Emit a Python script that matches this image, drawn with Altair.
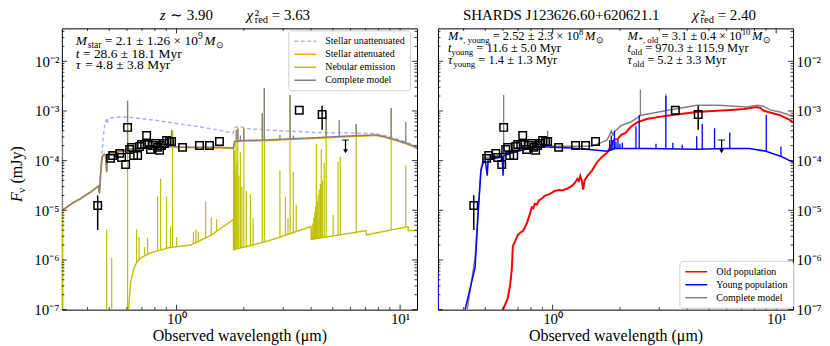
import altair as alt
import pandas as pd

# ---------------- data ----------------
# photometry (same galaxy in both panels)
phot_wl = [0.444, 0.507, 0.518, 0.557, 0.568, 0.592, 0.604, 0.617, 0.630, 0.643, 0.670, 0.684, 0.698,
           0.720, 0.735, 0.742, 0.765, 0.781, 0.806, 0.823, 0.840, 0.857, 0.884, 0.903, 0.930, 0.950,
           1.064, 1.267, 1.404, 1.556, 3.54, 4.48]
phot_f = [1.25e-5, 1.11e-4, 1.27e-4, 1.40e-4, 1.16e-4, 8.4e-5, 4.67e-4, 1.68e-4, 1.85e-4, 1.27e-4, 1.27e-4,
          1.93e-4, 2.12e-4, 2.12e-4, 3.22e-4, 2.12e-4, 1.68e-4, 2.02e-4, 2.22e-4, 1.85e-4, 1.61e-4, 2.02e-4,
          2.22e-4, 2.55e-4, 2.44e-4, 2.44e-4, 1.85e-4, 2.02e-4, 2.02e-4, 2.44e-4, 1.03e-3, 8.5e-4]
err_wl = [0.444, 4.48]
err_lo = [4.0e-6, 4.2e-4]
err_hi = [2.0e-5, 1.28e-3]
ul_wl = [5.7]
ul_top = [2.6e-4]
ul_tip = [1.55e-4]

# left panel: single population
unatt_wl = [0.455, 0.46, 0.47, 0.478, 0.485, 0.49, 0.495, 0.52, 0.56, 0.62, 0.70, 0.82, 1.0, 1.3, 1.6, 1.795,
            1.82, 1.9, 2.1, 2.6, 4.2, 6.0, 7.8, 8.5, 9.5, 10.5, 11.4, 11.9]
unatt_f = [3e-5, 8e-5, 3e-4, 5.5e-4, 6.5e-4, 5.5e-4, 7.0e-4, 7.4e-4, 7.6e-4, 7.4e-4, 7.0e-4, 6.4e-4, 5.6e-4,
           4.7e-4, 4.0e-4, 3.6e-4, 4.6e-4, 4.9e-4, 4.4e-4, 4.1e-4, 3.7e-4, 3.6e-4, 3.5e-4, 3.2e-4, 2.8e-4,
           2.4e-4, 2.1e-4, 1.9e-4]
tot1_wl = [0.307, 0.33, 0.35, 0.37, 0.39, 0.41, 0.43, 0.448, 0.452, 0.458, 0.465, 0.475, 0.482, 0.487, 0.49,
           0.51, 0.53, 0.56, 0.59, 0.604, 0.65, 0.75, 0.875, 1.0, 1.3, 1.6, 1.795, 1.82, 2.0, 2.52, 3.2, 4.22,
           5.57, 7.8, 8.5, 9.5, 10.5, 11.4, 11.9]
tot1_f = [1.0e-5, 1.25e-5, 1.5e-5, 1.7e-5, 2.0e-5, 2.3e-5, 2.7e-5, 3.1e-5, 2.2e-5, 6e-5, 1.2e-4, 1.35e-4,
          1.3e-4, 6e-5, 1.35e-4, 1.45e-4, 1.45e-4, 1.55e-4, 1.6e-4, 1.7e-4, 1.75e-4, 1.9e-4, 2.0e-4, 1.9e-4,
          1.85e-4, 1.85e-4, 1.8e-4, 2.45e-4, 2.55e-4, 2.6e-4, 2.75e-4, 2.9e-4, 3.1e-4, 3.3e-4, 3.05e-4,
          2.65e-4, 2.3e-4, 2.0e-4, 1.8e-4]
att_wl = tot1_wl
att_f = [0.98e-5, 1.22e-5, 1.47e-5, 1.66e-5, 1.95e-5, 2.25e-5, 2.65e-5, 3.05e-5, 2.15e-5, 5.8e-5, 1.17e-4,
         1.31e-4, 1.26e-4, 5.8e-5, 1.31e-4, 1.41e-4, 1.41e-4, 1.5e-4, 1.55e-4, 1.65e-4, 1.7e-4, 1.84e-4,
         1.94e-4, 1.84e-4, 1.8e-4, 1.8e-4, 1.75e-4, 2.38e-4, 2.47e-4, 2.52e-4, 2.67e-4, 2.81e-4, 3.0e-4,
         3.2e-4, 2.96e-4, 2.57e-4, 2.23e-4, 1.94e-4, 1.75e-4]
neb_wl = [0.307, 0.3095, 0.310, 0.606, 0.610, 0.623, 0.643, 0.663, 0.691, 0.766, 0.94, 1.155, 1.418, 1.795,
          1.80, 2.63, 3.99, 4.01, 7.04, 7.06, 10.85, 10.88, 11.9]
neb_f = [1.0e-5, 1.0e-5, 1e-8, 1e-8, 1e-7, 3.5e-7, 6.5e-7, 8.9e-7, 1.1e-6, 1.4e-6, 1.8e-6, 2.0e-6, 3.1e-6,
         6.5e-6, 1.6e-6, 2.5e-6, 4.7e-6, 2.6e-6, 3.9e-6, 3.2e-6, 4.7e-6, 3.9e-6, 3.9e-6]
# nebular emission lines: wavelength, foot, peak
nebl_wl = [0.487, 0.513, 0.604, 0.663, 0.68, 0.72, 0.742, 0.823, 0.849, 0.902, 0.94, 0.96, 1.0, 1.19, 1.22,
           1.25, 1.35, 1.43, 1.51, 1.80, 1.81, 1.82, 1.83, 1.845, 1.86, 1.88, 1.90, 1.93, 1.96, 2.0, 2.05,
           2.14, 2.2, 2.42, 2.47, 2.9, 3.07, 3.15, 3.22, 3.33, 3.43, 4.03, 4.07, 4.11, 4.15, 4.19, 4.22,
           4.26, 4.3, 4.35, 4.4, 4.44, 4.5, 4.58, 4.67, 5.02, 5.28, 5.4, 6.36, 9.12, 10.6]
nebl_base = [1e-8, 1e-8, 1e-8, 8.9e-7, 1.0e-6, 1.2e-6, 1.3e-6, 1.5e-6, 1.6e-6, 1.7e-6, 1.8e-6, 1.8e-6,
             1.85e-6, 2.1e-6, 2.2e-6, 2.4e-6, 2.8e-6, 3.1e-6, 3.6e-6, 1.6e-6, 1.6e-6, 1.6e-6, 1.6e-6,
             1.65e-6, 1.65e-6, 1.7e-6, 1.7e-6, 1.7e-6, 1.75e-6, 1.8e-6, 1.8e-6, 1.9e-6, 1.9e-6, 2.2e-6,
             2.25e-6, 2.8e-6, 3.1e-6, 3.2e-6, 3.3e-6, 3.4e-6, 3.6e-6, 2.6e-6, 2.6e-6, 2.65e-6, 2.65e-6,
             2.7e-6, 2.7e-6, 2.7e-6, 2.75e-6, 2.75e-6, 2.8e-6, 2.8e-6, 2.8e-6, 2.85e-6, 2.9e-6, 3.0e-6,
             3.1e-6, 3.1e-6, 3.5e-6, 4.2e-6, 4.6e-6]
nebl_peak = [4.1e-6, 1.1e-6, 1.6e-3, 4.1e-6, 2.9e-6, 1.8e-6, 2.8e-6, 1.9e-5, 4.3e-5, 1.9e-5, 4.7e-6, 4.1e-4,
             2.9e-6, 3.7e-6, 4.1e-6, 3.7e-6, 1.5e-5, 7.2e-6, 6.6e-6, 2.0e-4, 1.2e-4, 1.6e-4, 6e-5, 2.4e-4,
             9e-5, 4.5e-4, 5e-5, 1.5e-4, 3e-5, 4.5e-4, 2.5e-5, 2.1e-5, 7e-6, 9e-4, 2.9e-3, 6.3e-5, 1.9e-5,
             7e-6, 2.1e-3, 6e-5, 1.3e-5, 4e-6, 5.5e-6, 7e-6, 9e-6, 1.2e-5, 2.2e-4, 1.5e-5, 2e-5, 2.6e-5,
             3.4e-5, 1.7e-4, 4e-5, 9e-5, 7.9e-4, 8e-6, 9.5e-5, 1.2e-4, 5.4e-4, 1.15e-3, 8e-5]
tot1l_wl = [0.309, 0.604, 0.95, 1.85, 1.88, 1.93, 2.0, 2.42, 2.47, 2.9, 3.22, 3.33, 4.67, 5.34, 6.36, 9.12, 10.6]
tot1l_base = [1.0e-5, 1.7e-4, 1.9e-4, 2.5e-4, 2.5e-4, 2.5e-4, 2.55e-4, 2.6e-4, 2.6e-4, 2.7e-4, 2.75e-4,
              2.75e-4, 2.95e-4, 3.1e-4, 3.2e-4, 2.8e-4, 2.3e-4]
tot1l_peak = [4.1e-4, 1.6e-3, 4.1e-4, 4.2e-4, 4.5e-4, 3.2e-4, 4.5e-4, 9e-4, 2.9e-3, 3.3e-4, 2.1e-3, 3.2e-4,
              7.9e-4, 6.6e-4, 5.4e-4, 1.15e-3, 6e-4]

# right panel: two populations
old_wl = [0.598, 0.60, 0.615, 0.63, 0.645, 0.657, 0.664, 0.68, 0.699, 0.72, 0.735, 0.751, 0.77, 0.79, 0.807,
          0.82, 0.832, 0.85, 0.87, 0.9, 0.921, 0.96, 1.0, 1.02, 1.07, 1.1, 1.166, 1.22, 1.26, 1.29, 1.31,
          1.33, 1.35, 1.37, 1.39, 1.43, 1.5, 1.585, 1.65, 1.755, 1.82, 1.89, 1.95, 2.03, 2.12, 2.24, 2.39,
          2.64, 3.0, 3.38, 4.41, 5.2, 6.25, 7.2, 8.15, 8.5, 8.75, 9.3, 10.4, 11.5, 11.9]
old_f = [1e-8, 1e-7, 1.3e-7, 1.7e-7, 3e-7, 6.5e-7, 1.9e-6, 2.4e-6, 3.2e-6, 3.6e-6, 3.8e-6, 4.5e-6, 5.8e-6,
         8.3e-6, 1.15e-5, 1.1e-5, 1.35e-5, 1.3e-5, 1.6e-5, 1.75e-5, 1.95e-5, 2.1e-5, 2.3e-5, 2.45e-5, 2.55e-5,
         2.5e-5, 2.75e-5, 3.1e-5, 3.6e-5, 4.3e-5, 3.9e-5, 4.9e-5, 4.0e-5, 2.6e-5, 4.0e-5, 4.9e-5, 6.3e-5,
         9.5e-5, 1.15e-4, 1.45e-4, 2.0e-4, 2.65e-4, 2.7e-4, 3.3e-4, 3.6e-4, 4.8e-4, 5.9e-4, 6.9e-4, 7.6e-4,
         8.2e-4, 9.5e-4, 1.0e-3, 1.05e-3, 1.1e-3, 1.2e-3, 1.15e-3, 1.02e-3, 9.4e-4, 8.2e-4, 6.6e-4, 5.9e-4]
young_wl = [0.307, 0.3085, 0.404, 0.406, 0.45, 0.464, 0.478, 0.489, 0.50, 0.51, 0.515, 0.55, 0.595, 0.60,
            0.605, 0.65, 0.72, 0.86, 1.0, 1.2, 1.5, 1.755, 1.80, 1.9, 2.64, 4.4, 6.0, 7.6, 9.0, 10.6, 11.5, 11.9]
young_f = [5.5e-7, 1e-8, 1e-8, 1e-7, 7e-7, 8.3e-6, 6.3e-5, 9e-5, 1.0e-4, 5e-5, 1.05e-4, 1.1e-4, 1.2e-4, 5e-5,
           1.25e-4, 1.4e-4, 1.6e-4, 1.95e-4, 1.85e-4, 1.8e-4, 1.65e-4, 1.55e-4, 1.6e-4, 1.75e-4, 1.75e-4,
           1.7e-4, 1.75e-4, 1.75e-4, 1.55e-4, 1.2e-4, 1.0e-4, 9.5e-5]
tot2_wl = [0.307, 0.3085, 0.41, 0.415, 0.45, 0.466, 0.478, 0.49, 0.50, 0.56, 0.60, 0.65, 0.72, 0.86, 1.0, 1.2,
           1.5, 1.65, 1.75, 1.8, 1.83, 1.86, 1.9, 2.03, 2.24, 2.49, 3.15, 4.41, 5.5, 7.37, 8.3, 8.75, 9.4,
           10.4, 11.5, 11.9]
tot2_f = [5.5e-7, 1e-8, 1e-8, 1e-7, 1.1e-6, 1.2e-5, 7e-5, 1.05e-4, 1.15e-4, 1.25e-4, 1.3e-4, 1.45e-4, 1.7e-4,
          2.05e-4, 1.95e-4, 1.95e-4, 1.95e-4, 2.3e-4, 2.6e-4, 3.3e-4, 4.0e-4, 3.3e-4, 3.9e-4, 5.1e-4, 6.0e-4,
          8.2e-4, 1.0e-3, 1.3e-3, 1.3e-3, 1.2e-3, 1.3e-3, 1.25e-3, 1.05e-3, 9.5e-4, 8.2e-4, 7.8e-4]
youngl_wl = [1.80, 1.83, 1.86, 1.89, 1.92, 1.96, 2.0, 2.05, 2.36, 2.44, 2.90, 3.21, 3.45, 3.80, 4.41, 4.67,
             5.30, 6.20, 9.03, 10.5]
youngl_base = [1.6e-4, 1.65e-4, 1.7e-4, 1.7e-4, 1.75e-4, 1.75e-4, 1.75e-4, 1.75e-4, 1.75e-4, 1.75e-4,
               1.75e-4, 1.75e-4, 1.75e-4, 1.75e-4, 1.7e-4, 1.7e-4, 1.7e-4, 1.7e-4, 1.55e-4, 1.2e-4]
youngl_peak = [2.6e-4, 3.2e-4, 2.6e-4, 4.0e-4, 2.4e-4, 2.6e-4, 2.2e-4, 2.3e-4, 4.9e-4, 8.3e-4, 2.2e-4, 2.0e-3,
               2.3e-4, 2.1e-4, 3.1e-4, 5.5e-4, 4.5e-4, 3.7e-4, 8.3e-4, 1.9e-4]
tot2l_wl = [0.604, 0.95, 2.47, 3.21]
tot2l_base = [1.3e-4, 2.0e-4, 8.0e-4, 1.0e-3]
tot2l_peak = [2.1e-3, 4.0e-4, 2.7e-3, 2.2e-3]

# axes ticks
y_major = [1e-7, 1e-6, 1e-5, 1e-4, 1e-3, 1e-2]
y_minor = [m * e for e in [1e-7, 1e-6, 1e-5, 1e-4, 1e-3, 1e-2] for m in range(2, 10) if m * e < 0.046]
x_major = [1, 10]
x_minor = [0.4, 0.5, 0.6, 0.7, 0.8, 0.9, 2, 3, 4, 5, 6, 7, 8, 9]

SER1 = ["Stellar unattenuated", "Stellar attenuated", "Nebular emission", "Complete model"]
COL1 = ["#aab2f4", "#ffa500", "#bfbf00", "#808080"]
DASH1 = [[4, 2.5], [1, 0], [1, 0], [1, 0]]
SER2 = ["Old population", "Young population", "Complete model"]
COL2 = ["#ff0000", "#0000ff", "#808080"]

# ---------------- styling / helpers ----------------
FONT = "Liberation Serif"
W, H = 356, 282
xsc = alt.Scale(type="log", domain=[0.307, 11.9], nice=False)
ysc = alt.Scale(type="log", domain=[1e-7, 0.046], nice=False)

xax = alt.Axis(values=x_major, labelExpr="datum.value < 3 ? '10⁰' : '10¹'", ticks=False, domain=False,
               grid=False, labelFont=FONT, labelFontSize=15, labelColor="black", labelPadding=2,
               title="Observed wavelength (μm)", titleFont=FONT, titleFontSize=16, titleFontWeight="normal",
               titleColor="black", titlePadding=1)
YEXPR = ("'10' + (datum.value < 3e-7 ? '⁻⁷' : datum.value < 3e-6 ? '⁻⁶' : datum.value < 3e-5 ? '⁻⁵' : "
         "datum.value < 3e-4 ? '⁻⁴' : datum.value < 3e-3 ? '⁻³' : '⁻²')")


def yaxis(orient):
    return alt.Axis(values=y_major, labelExpr=YEXPR, orient=orient, ticks=False, domain=False, grid=False,
                    labelFont=FONT, labelFontSize=15, labelColor="black", labelPadding=3, title=None)


CW = {c: 0.5 for c in "0123456789"}
CW.update({' ': .25, '.': .25, ',': .25, '+': .564, '=': .564, '±': .549, '×': .564, '∼': .549,
           '*': .5, '(': .333, ')': .333, '⊙': .80, 'χ': .55, 'τ': .44, 'ν': .5, 'μ': .5, '²': .3})
CW.update(dict(zip("ABCDEFGHIJKLMNOPQRSTUVWXYZ",
                   [.722, .667, .667, .722, .611, .556, .722, .722, .333, .389, .722, .611, .889, .722, .722,
                    .556, .722, .667, .556, .611, .722, .722, .944, .722, .722, .611])))
CW.update(dict(zip("abcdefghijklmnopqrstuvwxyz",
                   [.444, .5, .444, .5, .444, .333, .5, .5, .278, .278, .5, .278, .778, .5, .5, .5, .5, .333,
                    .389, .278, .5, .5, .722, .5, .5, .444])))


def tw(s, size):
    return sum(CW.get(c, 0.5) for c in s) * size


def rich(pieces, x0, y0, size, vertical=False):
    """Lay out text pieces one after another (Vega trims whitespace, so spaces become offsets)."""
    rows, adv = [], 0.0
    for text, mode in pieces:
        if mode == "skip":
            adv += float(text)
            continue
        if mode in ("r", "i", "r0"):
            s, off = size, 0.0
        elif mode == "sub":
            s, off = size * 0.7, size * 0.22
        else:
            s, off = size * 0.7, -size * 0.4
        lead = len(text) - len(text.lstrip(" "))
        adv += lead * CW[" "] * s
        body = text.strip(" ")
        it = mode == "i"
        if vertical:
            rows.append({"x": x0 + off, "y": y0 - adv, "t": body, "s": s, "it": it})
        else:
            rows.append({"x": x0 + adv, "y": y0 + off, "t": body, "s": s, "it": it})
        if mode not in ("sup0", "r0"):
            adv += tw(body, s)
    return rows


def text_layers(rows, angle=0):
    df = pd.DataFrame(rows)
    out = []
    for it in (False, True):
        d = df[df.it == it]
        if d.empty:
            continue
        out.append(alt.Chart(d).mark_text(align="left", baseline="alphabetic", font=FONT,
                                          fontStyle="italic" if it else "normal", color="black",
                                          angle=angle).encode(
            x=alt.X("x:Q", scale=None, axis=None), y=alt.Y("y:Q", scale=None, axis=None),
            text="t:N", size=alt.Size("s:Q", scale=None, legend=None)))
    return out


def series(wl, fl, name, field, names, cols, leg, yax, sw, dashes=None):
    df = pd.DataFrame({"wl": wl, "f": fl, field: name})
    enc = dict(x=alt.X("wl:Q", scale=xsc, axis=xax), y=alt.Y("f:Q", scale=ysc, axis=yax),
               color=alt.Color(f"{field}:N", scale=alt.Scale(domain=names, range=cols), legend=leg))
    if dashes is not None:
        enc["strokeDash"] = alt.StrokeDash(f"{field}:N", scale=alt.Scale(domain=names, range=dashes), legend=leg)
    return alt.Chart(df).mark_line(clip=True, strokeWidth=sw).encode(**enc)


def spikes(wl, base, peak, color, yax, sw=1.2):
    df = pd.DataFrame({"wl": wl, "b": base, "p": peak})
    return alt.Chart(df).mark_rule(clip=True, color=color, strokeWidth=sw).encode(
        x=alt.X("wl:Q", scale=xsc, axis=xax), y=alt.Y("b:Q", scale=ysc, axis=yax), y2="p:Q")


def photometry(yax):
    pdf = pd.DataFrame({"wl": phot_wl, "f": phot_f})
    edf = pd.DataFrame({"wl": err_wl, "lo": err_lo, "hi": err_hi})
    udf = pd.DataFrame({"wl": ul_wl, "top": ul_top, "tip": ul_tip})
    X = alt.X("wl:Q", scale=xsc, axis=xax)
    return [
        alt.Chart(edf).mark_rule(color="black", strokeWidth=1.5).encode(
            x=X, y=alt.Y("lo:Q", scale=ysc, axis=yax), y2="hi:Q"),
        alt.Chart(udf).mark_rule(color="black", strokeWidth=1.3).encode(
            x=X, y=alt.Y("top:Q", scale=ysc, axis=yax), y2="tip:Q"),
        alt.Chart(udf).mark_tick(color="black", orient="horizontal", size=7, thickness=1.3).encode(
            x=X, y=alt.Y("top:Q", scale=ysc, axis=yax)),
        alt.Chart(udf).mark_point(shape="triangle-down", filled=True, color="black", size=22, opacity=1).encode(
            x=X, y=alt.Y("tip:Q", scale=ysc, axis=yax)),
        alt.Chart(pdf).mark_square(filled=False, color="black", size=56, strokeWidth=1.5, opacity=1).encode(
            x=X, y=alt.Y("f:Q", scale=ysc, axis=yax)),
    ]


def frame_ticks(yax):
    out = []
    for vals, L in ((x_major, 5), (x_minor, 2.5)):
        df = pd.DataFrame({"v": vals})
        X = alt.X("v:Q", scale=xsc, axis=xax)
        out.append(alt.Chart(df).mark_rule(color="black", strokeWidth=0.8).encode(
            x=X, y=alt.value(H), y2=alt.value(H - L)))
        out.append(alt.Chart(df).mark_rule(color="black", strokeWidth=0.8).encode(
            x=X, y=alt.value(0), y2=alt.value(L)))
    for vals, L in ((y_major, 5), (y_minor, 2.5)):
        df = pd.DataFrame({"v": vals})
        Y = alt.Y("v:Q", scale=ysc, axis=yax)
        out.append(alt.Chart(df).mark_rule(color="black", strokeWidth=0.8).encode(
            y=Y, x=alt.value(0), x2=alt.value(L)))
        out.append(alt.Chart(df).mark_rule(color="black", strokeWidth=0.8).encode(
            y=Y, x=alt.value(W), x2=alt.value(W - L)))
    return out


def legend(x, y):
    return alt.Legend(title=None, orient="none", legendX=x, legendY=y, fillColor="white",
                      strokeColor="#cccccc", cornerRadius=3, padding=5, labelFont=FONT, labelFontSize=10,
                      labelColor="black", symbolType="M-2.2,0H2.2", symbolSize=100, symbolStrokeWidth=1.5,
                      symbolOffset=6, rowPadding=2, labelOffset=14, labelLimit=0)


TITLE_Y = -8.5

# ---------------- left panel ----------------
yl = yaxis("left")
leg1 = legend(227, 2)
left_layers = [
    series(unatt_wl, unatt_f, SER1[0], "comp", SER1, COL1, leg1, yl, 1.5, DASH1),
    series(att_wl, att_f, SER1[1], "comp", SER1, COL1, leg1, yl, 1.5, DASH1),
    series(neb_wl, neb_f, SER1[2], "comp", SER1, COL1, leg1, yl, 1.4, DASH1),
    spikes(nebl_wl, nebl_base, nebl_peak, COL1[2], yl),
    series(tot1_wl, tot1_f, SER1[3], "comp", SER1, COL1, leg1, yl, 1.5, DASH1),
    spikes(tot1l_wl, tot1l_base, tot1l_peak, COL1[3], yl, 1.3),
] + photometry(yl) + frame_ticks(yl)

ANN = 13.5
rowsL = []
rowsL += rich([("z", "i"), (" ∼ 3.90", "r")], 98, TITLE_Y, 15)
rowsL += rich([("χ", "i"), ("²", "r0"), ("red", "sub"), (" = 3.63", "r")], 185, TITLE_Y, 15)
rowsL += rich([("M", "i"), ("star", "sub"), (" = 2.1 ± 1.26 × 10", "r"), ("9", "sup"), ("1.5", "skip"),
               ("M", "i"), ("⊙", "sub")], 14, 16.5, ANN)
rowsL += rich([("t", "i"), (" = 28.6 ± 18.1 Myr", "r")], 14, 30, ANN)
rowsL += rich([("τ", "i"), (" = 4.8 ± 3.8 Myr", "r")], 14, 41, ANN)
left_layers += text_layers(rowsL)
left_layers += text_layers(rich([("F", "i"), ("ν", "sub"), (" (mJy)", "r")], -40, 174, 16, vertical=True),
                           angle=270)
left = alt.layer(*left_layers).properties(width=W, height=H)

# ---------------- right panel ----------------
yr = yaxis("right")
leg2 = legend(242, 233)
right_layers = [
    series(old_wl, old_f, SER2[0], "pop", SER2, COL2, leg2, yr, 2.0),
    series(tot2_wl, tot2_f, SER2[2], "pop", SER2, COL2, leg2, yr, 1.5),
    spikes(tot2l_wl, tot2l_base, tot2l_peak, COL2[2], yr, 1.3),
    series(young_wl, young_f, SER2[1], "pop", SER2, COL2, leg2, yr, 1.5),
    spikes(youngl_wl, youngl_base, youngl_peak, COL2[1], yr, 1.3),
] + photometry(yr) + frame_ticks(yr)

RA = 12.5
rowsR = []
rowsR += rich([("SHARDS J123626.60+620621.1", "r")], 25, TITLE_Y, 15)
rowsR += rich([("χ", "i"), ("²", "r0"), ("red", "sub"), (" = 2.40", "r")], 255, TITLE_Y, 15)
rowsR += rich([("M", "i"), ("*, young", "sub"), (" = 2.52 ± 2.3 × 10", "r"), ("8", "sup"), ("1.5", "skip"),
               ("M", "i"), ("⊙", "sub")], 10, 11.5, RA)
rowsR += rich([("t", "i"), ("young", "sub"), (" = 11.6 ± 5.0 Myr", "r")], 10, 24, RA)
rowsR += rich([("τ", "i"), ("young", "sub"), (" = 1.4 ± 1.3 Myr", "r")], 10, 35.7, RA)
rowsR += rich([("M", "i"), ("*, old", "sub"), (" = 3.1 ± 0.4 × 10", "r"), ("10", "sup"), ("1.5", "skip"),
               ("M", "i"), ("⊙", "sub")], 190, 11.5, RA)
rowsR += rich([("t", "i"), ("old", "sub"), (" = 970.3 ± 115.9 Myr", "r")], 190, 24, RA)
rowsR += rich([("τ", "i"), ("old", "sub"), (" = 5.2 ± 3.3 Myr", "r")], 190, 35.7, RA)
right_layers += text_layers(rowsR)
right = alt.layer(*right_layers).properties(width=W, height=H)

chart = alt.hconcat(left, right, spacing=19).resolve_scale(
    color="independent", strokeDash="independent").resolve_legend(
    color="independent", strokeDash="independent").properties(
    padding={"left": 0, "top": -1, "right": 0, "bottom": 0}).configure_view(stroke="black", strokeWidth=1)

chart.save("out.html", embed_options={"renderer": "svg", "actions": False})
